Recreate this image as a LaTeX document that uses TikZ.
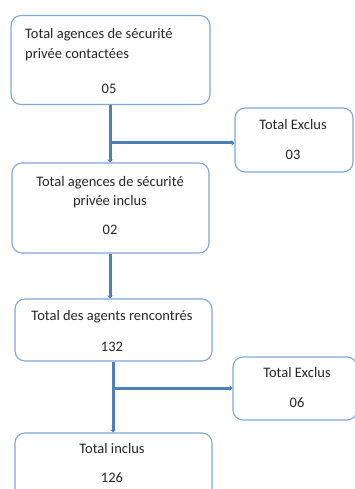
\documentclass[tikz,border=0pt]{standalone}
\usepackage{fontspec}
\setmainfont{Carlito}
\usetikzlibrary{arrows.meta}
\definecolor{boxline}{HTML}{7EA6D8}
\definecolor{conn}{HTML}{4F7FB8}
\tikzset{
  box/.style={draw=boxline, line width=1.1pt, rounded corners=10pt, fill=white, inner sep=0pt},
  txt/.style={inner sep=0pt, font=\fontsize{14.5}{16}\selectfont, text=black!85},
  link/.style={draw=conn, line width=3pt},
  arr/.style={link, -{Stealth[length=3pt,width=6pt]}}
}
\begin{document}
\begin{tikzpicture}[x=1pt,y=-1pt]
\useasboundingbox (0,0) rectangle (355,489);
\clip (0,0) rectangle (355,489);
% boxes
\node[box, minimum width=199pt, minimum height=89pt] (b1) at (110.5,60) {};
\node[box, minimum width=118pt, minimum height=64pt] (e1) at (294,140) {};
\node[box, minimum width=197pt, minimum height=90pt] (b2) at (110.5,208) {};
\node[box, minimum width=197pt, minimum height=62pt] (b3) at (113.5,330) {};
\node[box, minimum width=124pt, minimum height=63pt] (e2) at (295,388.5) {};
\node[box, minimum width=197pt, minimum height=90pt] (b4) at (113.5,478) {};
% texts
\node[txt, anchor=west] (t1a) at (25,35) {Total agences de sécurité};
\node[txt, anchor=west] (t1b) at (25,55) {privée contactées};
\node[txt] (t1c) at (109,89) {05};
\node[txt] (te1a) at (293,125) {Total Exclus};
\node[txt] (te1b) at (293,155) {03};
\node[txt] (t2a) at (110,183) {Total agences de sécurité};
\node[txt] (t2b) at (110,202) {privée inclus};
\node[txt] (t2c) at (110,230) {02};
\node[txt] (t3a) at (112,317) {Total des agents rencontrés};
\node[txt] (t3b) at (112,347) {132};
\node[txt] (te2a) at (297,373) {Total Exclus};
\node[txt] (te2b) at (297,403) {06};
\node[txt] (t4a) at (112,449) {Total inclus};
\node[txt] (t4b) at (112,478) {126};
% connectors
\coordinate (j1) at (110,143);
\coordinate (j2) at (113,388);
\draw[arr] (b1.south -| j1) -- (b2.north -| j1);
\draw[arr] (j1) -- (j1 -| e1.west);
\draw[arr] (b2.south -| j1) -- (b3.north -| j1);
\draw[arr] (b3.south -| j2) -- (b4.north -| j2);
\draw[arr] (j2) -- (j2 -| e2.west);
\end{tikzpicture}
\end{document}
